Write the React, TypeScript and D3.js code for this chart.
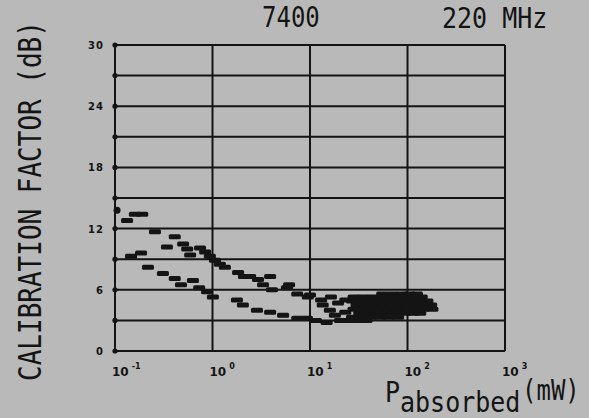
import React from "react";
import * as d3 from "d3";

const W = 589;
const H = 418;

// Axis ticks
const xTickValues = [0.1, 1, 10, 100, 1000];
const xTickExponents = ["-1", "0", "1", "2", "3"];
const yGridValues = [0, 3, 6, 9, 12, 15, 18, 21, 24, 27, 30];
const yLabelValues = [0, 6, 12, 18, 24, 30];
const yLabelTexts = ["0", "6", "12", "18", "24", "30"];

// Data: P absorbed (mW) and calibration factor (dB)
const startP = [0.105];
const startDb = [13.8];

const upperP = [0.133, 0.16, 0.19, 0.257, 0.41, 0.341, 0.5, 0.55, 0.745, 0.59, 0.84, 0.94, 1.06, 1.19, 1.34, 1.83, 2.1, 2.43, 2.93, 3.9, 3.3, 4.07, 5.8, 6.1, 7.4, 9.5, 10, 13, 16.4, 19.4];
const upperDb = [12.8, 13.4, 13.4, 11.7, 11.2, 10.2, 10.5, 10.0, 10.1, 9.4, 9.7, 9.3, 8.9, 8.5, 8.2, 7.7, 7.3, 7.3, 7.0, 7.3, 6.5, 6.0, 6.2, 6.5, 5.6, 5.3, 5.5, 5.0, 5.3, 4.7];

const lowerP = [0.146, 0.185, 0.218, 0.31, 0.41, 0.475, 0.63, 0.73, 0.88, 1.01, 1.78, 2.05, 2.86, 3.9, 5.3, 7.4, 9.3, 11.5, 14.8, 20.3];
const lowerDb = [9.3, 9.6, 8.2, 7.6, 7.1, 6.5, 6.9, 6.2, 5.8, 5.3, 5.0, 4.5, 4.0, 3.8, 3.5, 3.2, 3.2, 3.0, 2.8, 3.0];

const middleP = [13.5, 16, 23, 23, 18, 25];
const middleDb = [4.5, 4.0, 5.0, 3.8, 3.5, 3.0];

const clusterP = [
  55, 70, 88, 105, 125,
  28, 35, 44, 55, 68, 84, 100, 118, 140,
  27, 33, 41, 51, 63, 78, 96, 115, 140, 160,
  30, 37, 46, 57, 70, 86, 105, 128, 150, 175,
  28, 35, 43, 53, 65, 80, 98, 120, 145, 180,
  32, 40, 50, 62, 77, 95, 115, 135,
  27, 34, 42, 52, 64, 80,
  30, 38,
];
const clusterDb = [
  5.6, 5.6, 5.6, 5.6, 5.6,
  5.3, 5.3, 5.3, 5.3, 5.3, 5.3, 5.3, 5.3, 5.3,
  4.9, 4.9, 4.9, 4.9, 4.9, 4.9, 4.9, 4.9, 4.9, 4.9,
  4.5, 4.5, 4.5, 4.5, 4.5, 4.5, 4.5, 4.5, 4.5, 4.5,
  4.1, 4.1, 4.1, 4.1, 4.1, 4.1, 4.1, 4.1, 4.1, 4.1,
  3.7, 3.7, 3.7, 3.7, 3.7, 3.7, 3.7, 3.7,
  3.3, 3.3, 3.3, 3.3, 3.3, 3.3,
  3.0, 3.0,
];

const FONT = "'DejaVu Sans Mono', monospace";
const INK = "#141414";

export default function App() {
  const left = 115;
  const right = 505;
  const top = 45;
  const bottom = 351;
  const x = d3.scaleLog().domain([0.1, 1000]).range([left, right]);
  const y = d3.scaleLinear().domain([0, 30]).range([bottom, top]);

  const dashes: [number, number][] = [];
  const addSeries = (ps: number[], ds: number[]) => ps.forEach((p, i) => dashes.push([p, ds[i]]));
  addSeries(upperP, upperDb);
  addSeries(lowerP, lowerDb);
  addSeries(middleP, middleDb);
  addSeries(clusterP, clusterDb);

  return (
    <svg width={W} height={H} style={{ position: "absolute", left: 0, top: 0, background: "#b9b9b9" }}>
      <rect x={0} y={0} width={W} height={H} fill="#b9b9b9" />
      {/* grid */}
      <g stroke={INK} strokeWidth={2} fill="none">
        {yGridValues.map((v) => (
          <line key={"h" + v} x1={left} x2={right} y1={y(v)} y2={y(v)} />
        ))}
        {xTickValues.map((v) => (
          <line key={"v" + v} x1={x(v)} x2={x(v)} y1={top} y2={bottom} />
        ))}
      </g>
      {yGridValues.map((v) => (
        <circle key={"d" + v} cx={left} cy={y(v)} r={2.6} fill={INK} />
      ))}
      {/* y tick labels */}
      {yLabelValues.map((v, i) => (
        <text key={"yl" + v} x={104} y={y(v) + 4} textAnchor="end" fontFamily="'DejaVu Sans', sans-serif" fontWeight="bold" fontSize={10} fill={INK} letterSpacing={1}>
          {yLabelTexts[i]}
        </text>
      ))}
      {/* x tick labels */}
      {xTickValues.map((v, i) => (
        <text key={"xl" + v} x={x(v) - 3} y={376} fontFamily="'DejaVu Sans', sans-serif" fontWeight="bold" fontSize={12} fill={INK}>
          10
          <tspan dy={-7} dx={3} fontSize={8}>{xTickExponents[i]}</tspan>
        </text>
      ))}
      {/* data */}
      {dashes.map(([p, db], i) => (
        <rect key={"p" + i} x={x(p) - 6} y={y(db) - 2.5} width={12} height={5} rx={1.5} fill={INK} />
      ))}
      {startP.map((p, i) => (
        <circle key={"s" + i} cx={x(p)} cy={y(startDb[i])} r={3.5} fill={INK} />
      ))}
      {/* titles */}
      <text transform="translate(262,27) scale(1,1.15)" fontFamily={FONT} fontSize={24} fill={INK}>7400</text>
      <text transform="translate(442,28) scale(1,1.15)" fontFamily={FONT} fontSize={25} fill={INK}>220 MHz</text>
      {/* y axis label */}
      <text transform="translate(41,201) rotate(-90) scale(1,1.2)" textAnchor="middle" fontFamily={FONT} fontSize={26} fill={INK}>
        CALIBRATION FACTOR (dB)
      </text>
      {/* x axis label */}
      <text transform="translate(385,402) scale(1,1.15)" fontFamily={FONT} fontSize={25} fill={INK}>P</text>
      <text transform="translate(400,412) scale(1,1.15)" fontFamily={FONT} fontSize={25} fill={INK}>absorbed</text>
      <text transform="translate(522,400) scale(1,1.15)" fontFamily={FONT} fontSize={24} fill={INK}>(mW)</text>
    </svg>
  );
}
